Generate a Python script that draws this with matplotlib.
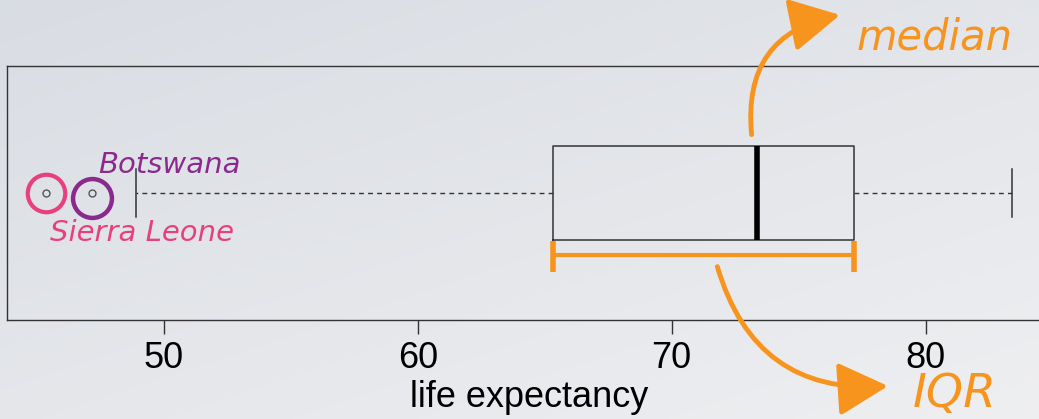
import numpy as np
import matplotlib
matplotlib.use("Agg")
import matplotlib.pyplot as plt
from matplotlib.patches import ConnectionPatch

# ---- data (life expectancy) ----
q1 = 65.31
median = 73.35
q3 = 77.19
whisker_lo = 48.9
whisker_hi = 83.42
outlier_values = [45.34, 47.17]
outlier_names = ["Sierra Leone", "Botswana"]
tick_values = [50, 60, 70, 80]
xlabel = "life expectancy"

ORANGE = "#f7941d"
PINK = "#e8407f"
PURPLE = "#8a2a8c"

W, H = 1039, 419
fig = plt.figure(figsize=(W / 100, H / 100), dpi=100)

# background gradient
bg = fig.add_axes([0, 0, 1, 1], zorder=-10)
yy, xx = np.mgrid[0:1:200j, 0:1:400j]
t = np.clip(0.55 * yy + 0.45 * xx, 0, 1)
c0 = np.array([0.850, 0.865, 0.890])
c1 = np.array([0.935, 0.937, 0.945])
img = c0[None, None, :] * (1 - t[..., None]) + c1[None, None, :] * t[..., None]
bg.imshow(img, aspect="auto", extent=[0, 1, 0, 1], origin="upper")
bg.axis("off")

# main axes (right side extends past the figure edge)
left_px, right_px, top_px, bot_px = 7, 1051, 66, 320
ax = fig.add_axes([left_px / W, 1 - bot_px / H, (right_px - left_px) / W, (bot_px - top_px) / H])
ax.patch.set_alpha(0)
allv = outlier_values + [whisker_lo, whisker_hi]
span = max(allv) - min(allv)
ax.set_xlim(min(allv) - 0.04 * span, max(allv) + 0.04 * span)
ax.set_ylim(0, 1)

stats = [dict(med=median, q1=q1, q3=q3, whislo=whisker_lo, whishi=whisker_hi,
              fliers=outlier_values)]
ax.bxp(stats, positions=[0.5], widths=0.37, orientation="horizontal",
       capwidths=0.19, manage_ticks=False,
       boxprops=dict(color="#333333", lw=1.1),
       medianprops=dict(color="black", lw=4),
       whiskerprops=dict(color="#333333", lw=1.0, linestyle=(0, (3.5, 3))),
       capprops=dict(color="#333333", lw=1.1),
       flierprops=dict(marker="o", markersize=5, markerfacecolor="none",
                       markeredgecolor="#555555", markeredgewidth=1))

for sp in ax.spines.values():
    sp.set_color("#333333")
    sp.set_linewidth(1.0)
ax.set_yticks([])
ax.set_xticks(tick_values)
ax.set_xticklabels([str(v) for v in tick_values])
ax.tick_params(axis="x", length=10, width=1, color="#333333", pad=5,
               labelsize=26)
for lab in ax.get_xticklabels():
    lab.set_fontfamily("Liberation Sans")
ax.set_xlabel(xlabel, fontsize=26, family="Liberation Sans", labelpad=3)

# highlight circles around outliers
ax.plot([outlier_values[0]], [0.5], marker="o", ms=27, mfc="none", mec=PINK, mew=3, clip_on=False)
ax.plot([outlier_values[1]], [0.48], marker="o", ms=28, mfc="none", mec=PURPLE, mew=3.2, clip_on=False)

hand = dict(family="DejaVu Sans", style="italic", weight="light")
fig.text(169 / W, 1 - 165 / H, outlier_names[1], color=PURPLE, fontsize=21,
         ha="center", va="center", **hand)
fig.text(142 / W, 1 - 233 / H, outlier_names[0], color=PINK, fontsize=21,
         ha="center", va="center", **hand)

# IQR bracket
ybr = 0.256
ax.plot([q1, q3], [ybr, ybr], color=ORANGE, lw=3.0, solid_capstyle="round", clip_on=False)
ax.vlines([q1, q3], 0.19, 0.31, color=ORANGE, lw=4, clip_on=False)

# arrows
con1 = ConnectionPatch(xyA=(median - 0.2, 0.73), coordsA=ax.transData,
                       xyB=(840 / W, 1 - 15 / H), coordsB=fig.transFigure,
                       connectionstyle="arc3,rad=-0.45",
                       arrowstyle="-|>,head_length=1.4,head_width=0.75",
                       color=ORANGE, lw=3.5, mutation_scale=22)
fig.add_artist(con1)
con2 = ConnectionPatch(xyA=(71.8, 0.21), coordsA=ax.transData,
                       xyB=(888 / W, 1 - 386 / H), coordsB=fig.transFigure,
                       connectionstyle="arc3,rad=0.4",
                       arrowstyle="-|>,head_length=1.4,head_width=0.75",
                       color=ORANGE, lw=3.5, mutation_scale=22)
fig.add_artist(con2)

fig.text(935 / W, 1 - 37 / H, "median", color=ORANGE, fontsize=30,
         ha="center", va="center", **hand)
fig.text(955 / W, 2 / H, "IQR", color=ORANGE, fontsize=34,
         ha="center", va="bottom", **hand)

fig.savefig("out.png", dpi=100)
